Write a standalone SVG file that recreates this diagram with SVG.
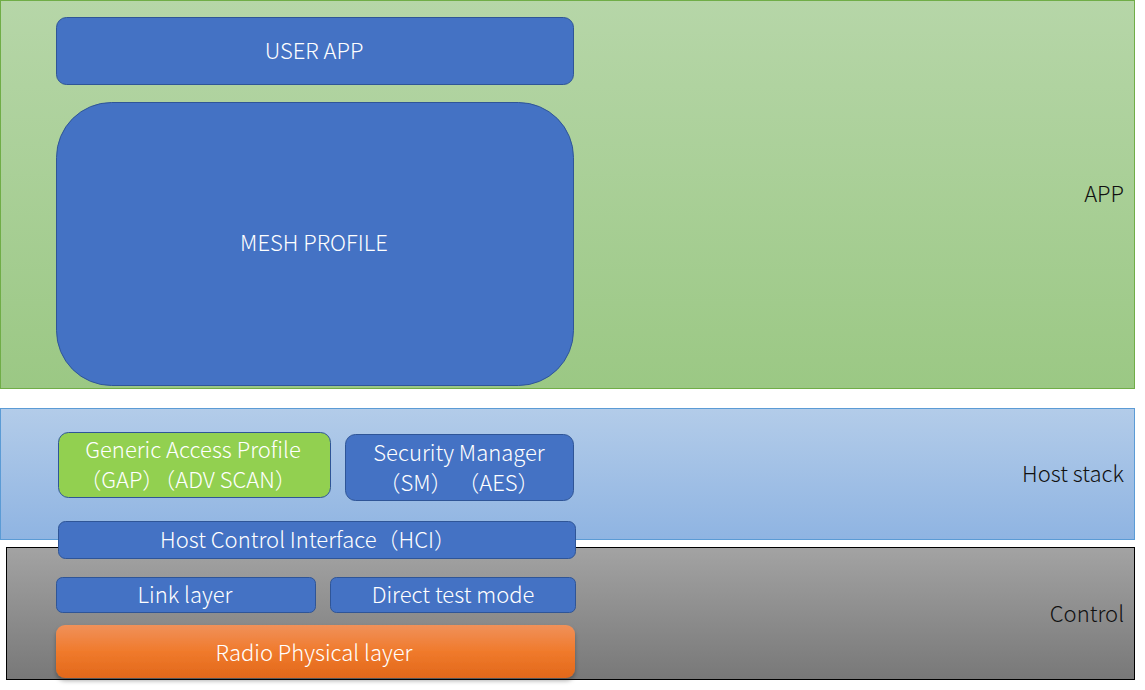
<svg xmlns="http://www.w3.org/2000/svg" width="1145" height="690" viewBox="0 0 1145 690">
<defs>
<linearGradient id="gApp" x1="0" y1="0" x2="0" y2="1"><stop offset="0" stop-color="#b6d6a8"/><stop offset="1" stop-color="#9bc884"/></linearGradient>
<linearGradient id="gHost" x1="0" y1="0" x2="0" y2="1"><stop offset="0" stop-color="#b3cce9"/><stop offset="1" stop-color="#8fb4e2"/></linearGradient>
<linearGradient id="gCtl" x1="0" y1="0" x2="0" y2="1"><stop offset="0" stop-color="#a3a3a3"/><stop offset="1" stop-color="#787878"/></linearGradient>
<linearGradient id="gRadio" x1="0" y1="0" x2="0" y2="1"><stop offset="0" stop-color="#f0915a"/><stop offset="0.5" stop-color="#f07a2c"/><stop offset="1" stop-color="#e2681a"/></linearGradient>
<filter id="sh" x="-5%" y="-20%" width="110%" height="150%"><feDropShadow dx="0" dy="3" stdDeviation="2" flood-color="#000" flood-opacity="0.3"/></filter>
</defs>
<style>
.blue{fill:#4472c4;stroke:#2f5597;stroke-width:1}
.t{font-family:"Noto Sans CJK SC","Noto Sans",sans-serif;font-size:22px;font-weight:300;fill:#ffffff;text-anchor:middle}
.lab{font-family:"Noto Sans CJK SC","Noto Sans",sans-serif;font-size:22px;font-weight:300;fill:#111;text-anchor:end}
</style>
<g id="app-layer">
<rect x="0.5" y="0.5" width="1134" height="388" fill="url(#gApp)" stroke="#70ad47"/>
<text class="lab" x="1124" y="202">APP</text>
</g>
<g id="host-layer">
<rect x="0.5" y="408.5" width="1134" height="131" fill="url(#gHost)" stroke="#5b9bd5"/>
<text class="lab" x="1124" y="482">Host stack</text>
</g>
<g id="control-layer">
<rect x="6.5" y="547.5" width="1128" height="132" fill="url(#gCtl)" stroke="#000"/>
<text class="lab" x="1124" y="622">Control</text>
</g>
<g id="user-app">
<rect class="blue" x="56.5" y="17.5" width="517" height="67" rx="10"/>
<text class="t" x="314" y="59">USER APP</text>
</g>
<g id="mesh-profile">
<rect class="blue" x="56.5" y="102.5" width="517" height="283" rx="55"/>
<text class="t" x="314" y="251">MESH PROFILE</text>
</g>
<g id="gap">
<rect x="58.5" y="432.5" width="272" height="65" rx="10" fill="#92d050" stroke="#2f5597"/>
<text class="t" x="193" y="458">Generic Access Profile</text>
<text class="t" x="188" y="488">（GAP）（ADV SCAN）</text>
</g>
<g id="sm">
<rect class="blue" x="345.5" y="434.5" width="228" height="66" rx="10"/>
<text class="t" x="459" y="461">Security Manager</text>
<text class="t" x="459" y="491">（SM）  （AES）</text>
</g>
<g id="hci">
<rect class="blue" x="58.5" y="521.5" width="517" height="37" rx="7"/>
<text class="t" x="308" y="548">Host Control Interface（HCI）</text>
</g>
<g id="link-layer">
<rect class="blue" x="56.5" y="577.5" width="259" height="35" rx="6"/>
<text class="t" x="185" y="603">Link layer</text>
</g>
<g id="direct-test">
<rect class="blue" x="330.5" y="577.5" width="245" height="35" rx="6"/>
<text class="t" x="453" y="603">Direct test mode</text>
</g>
<g id="radio">
<rect x="56" y="625" width="519" height="53" rx="9" fill="url(#gRadio)" filter="url(#sh)"/>
<text class="t" x="314" y="661">Radio Physical layer</text>
</g>
<g id="connectors"></g>
</svg>
